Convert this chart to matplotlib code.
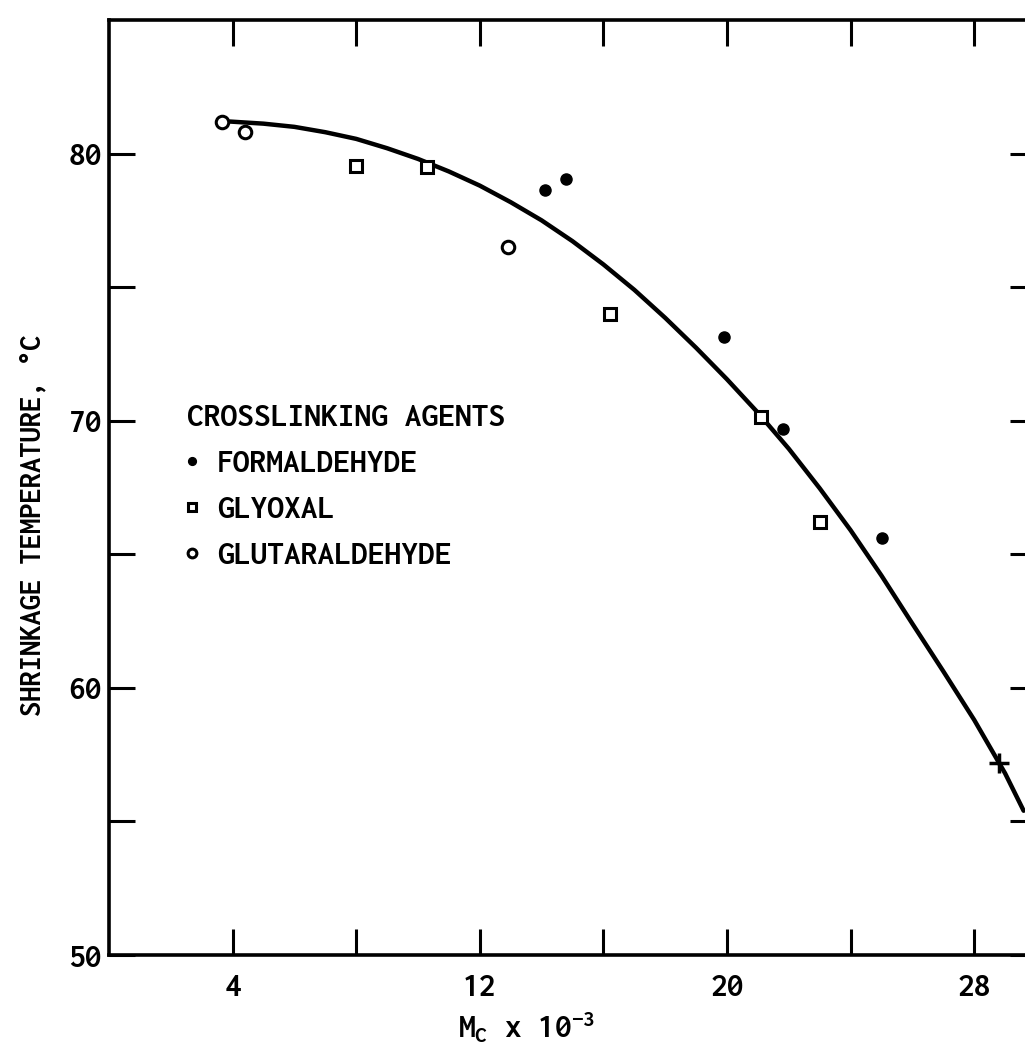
import matplotlib
matplotlib.use("Agg")
import matplotlib.pyplot as plt
from matplotlib.ticker import FixedLocator

plt.rcParams['font.family'] = ['Inconsolata', 'DejaVu Sans']
plt.rcParams['font.weight'] = 'bold'
plt.rcParams['mathtext.default'] = 'regular'

# data (Mc x 1e-3, shrinkage temperature in C)
form_x  = [14.1, 14.8, 19.9, 21.8, 25.0]
form_y  = [78.65, 79.05, 73.15, 69.7, 65.6]
glyox_x = [8.0, 10.3, 16.2, 21.1, 23.0]
glyox_y = [79.55, 79.5, 74.0, 70.15, 66.2]
glut_x  = [3.65, 4.4, 12.9]
glut_y  = [81.2, 80.8, 76.5]
cross_x = [28.8]
cross_y = [57.2]

curve_x = [3.9, 5, 6, 7, 8, 9, 10, 11, 12, 13, 14, 15, 16, 17, 18, 19, 20,
           21, 22, 23, 24, 25, 26, 27, 28, 29, 29.6]
curve_y = [81.2, 81.12, 81.0, 80.8, 80.55, 80.2, 79.8, 79.33, 78.8, 78.18,
           77.5, 76.72, 75.85, 74.9, 73.85, 72.73, 71.55, 70.3, 68.95, 67.47,
           65.9, 64.2, 62.4, 60.62, 58.8, 56.8, 55.4]

xticks_major = [4, 12, 20, 28]
xticks_minor = [8, 16, 24]
yticks_major = [50, 60, 70, 80]
yticks_minor = [55, 65, 75]

fs = 24
W, H = 1025, 1056
fig = plt.figure(figsize=(W/100, H/100), dpi=100)
ax = fig.add_axes([109/W, 1 - 955/H, 927/W, 935/H])

ax.plot(curve_x, curve_y, '-', color='black', lw=3.2, solid_capstyle='round',
        solid_joinstyle='round')
ax.plot(form_x, form_y, 'o', color='black', ms=8, ls='none', label='FORMALDEHYDE')
ax.plot(glyox_x, glyox_y, 's', mfc='white', mec='black', mew=2.2, ms=8.5, ls='none', label='GLYOXAL')
ax.plot(glut_x, glut_y, 'o', mfc='white', mec='black', mew=2.2, ms=9, ls='none', label='GLUTARALDEHYDE')
ax.plot(cross_x, cross_y, '+', color='black', mew=2.5, ms=14, ls='none')

ax.set_xlim(0, 30)
ax.set_ylim(50, 85)

ax.xaxis.set_major_locator(FixedLocator(xticks_major))
ax.xaxis.set_minor_locator(FixedLocator(xticks_minor))
ax.yaxis.set_major_locator(FixedLocator(yticks_major))
ax.yaxis.set_minor_locator(FixedLocator(yticks_minor))
ax.tick_params(which='both', direction='in', length=19, width=2.2,
               top=True, right=True, labelsize=fs, color='black')
ax.tick_params(axis='x', which='major', pad=13)
ax.tick_params(axis='y', which='major', pad=5)
ax.set_xticklabels([str(t) for t in xticks_major])
ax.set_yticklabels([str(t) for t in yticks_major])
for sp in ax.spines.values():
    sp.set_linewidth(2.6)

leg = ax.legend(loc='upper left', bbox_to_anchor=(0.084, 0.590), frameon=False,
                title='CROSSLINKING AGENTS', fontsize=fs, title_fontsize=fs,
                handlelength=0.3, handletextpad=0.6, labelspacing=0.5,
                markerscale=0.7, alignment='left', borderaxespad=0, borderpad=0)

fig.text(33/W, 1 - 525/H, 'SHRINKAGE TEMPERATURE, °C', rotation=90,
         ha='center', va='center', fontsize=22)
fig.text(527/W, 1 - 1028/H, r'M$_C$ x 10$^{-3}$', ha='center', va='center',
         fontsize=fs)

fig.savefig('out.png', dpi=100)
